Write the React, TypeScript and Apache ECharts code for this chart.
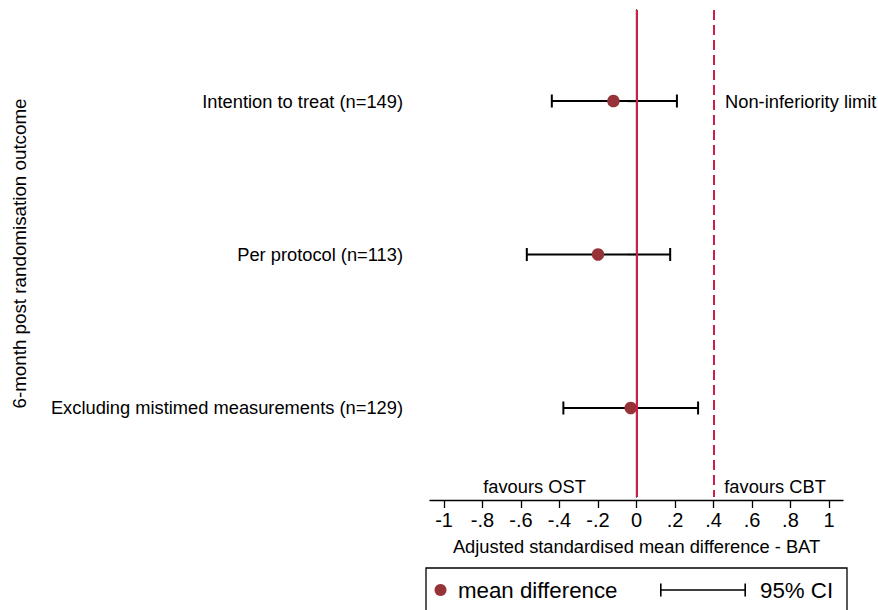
import React, { useEffect, useRef } from "react";
import * as echarts from "echarts";

const categories = [
  "Intention to treat (n=149)",
  "Per protocol (n=113)",
  "Excluding mistimed measurements (n=129)",
];
const meanDiff = [-0.12, -0.2, -0.03];
const ciLow = [-0.44, -0.57, -0.38];
const ciHigh = [0.21, 0.175, 0.32];
const xTicks = [-1, -0.8, -0.6, -0.4, -0.2, 0, 0.2, 0.4, 0.6, 0.8, 1];
const nonInferiorityLimit = 0.4;
const annotations = [
  { text: "Non-inferiority limit", x: 0.46, y: 1, align: "left" },
  { text: "favours OST", x: -0.53, y: 3.51, align: "center" },
  { text: "favours CBT", x: 0.72, y: 3.51, align: "center" },
];

const FONT = "'Liberation Sans', Arial, sans-serif";
const RED = "#cf1f49";
const MARKER = "#963339";
const FS = 18.3;

function fmtTick(v: number): string {
  if (v === 0) return "0";
  const s = String(Math.round(v * 10) / 10);
  return s.replace(/^(-?)0\./, "$1.");
}

export default function App() {
  const ref = useRef<HTMLDivElement>(null);
  useEffect(() => {
    document.body.style.margin = "0";
    if (!ref.current) return;
    const chart = echarts.init(ref.current, undefined, { renderer: "svg" });
    const option: any = {
      animation: false,
      backgroundColor: "#ffffff",
      textStyle: { fontFamily: FONT, color: "#000" },
      grid: { left: 430, right: 35, top: 10, bottom: 113 },
      xAxis: {
        type: "value",
        min: -1.073,
        max: 1.073,
        offset: 3,
        splitLine: { show: false },
        axisLine: { show: true, lineStyle: { color: "#000", width: 1.3 } },
        axisTick: { show: true, length: 8, customValues: xTicks, lineStyle: { color: "#000", width: 1.3 } },
        axisLabel: {
          customValues: xTicks,
          formatter: (v: number) => fmtTick(v),
          fontSize: 20,
          color: "#000",
          fontFamily: FONT,
          margin: 10,
        },
        name: "Adjusted standardised mean difference - BAT",
        nameLocation: "middle",
        nameGap: 37,
        nameTextStyle: { fontSize: FS, color: "#000", fontFamily: FONT },
      },
      yAxis: {
        type: "value",
        inverse: true,
        min: 0.407,
        max: 3.58,
        offset: 13,
        splitLine: { show: false },
        axisLine: { show: true, lineStyle: { color: "#000", width: 1.3 } },
        axisTick: { show: true, length: 9, customValues: [1, 2, 3], lineStyle: { color: "#000", width: 1.3 } },
        axisLabel: {
          customValues: [1, 2, 3],
          formatter: (v: number) => categories[Math.round(v) - 1] || "",
          fontSize: FS,
          color: "#000",
          fontFamily: FONT,
          margin: 14,
        },
        name: "6-month post randomisation outcome",
        nameLocation: "middle",
        nameGap: 388,
        nameTextStyle: { fontSize: 18.8, color: "#000", fontFamily: FONT },
      },
      legend: [
        {
          left: 434.5,
          top: 579,
          padding: 0,
          selectedMode: false,
          itemWidth: 25,
          itemHeight: 12,
          data: [{ name: "mean difference", icon: "circle", itemStyle: { color: MARKER } }],
          textStyle: { fontSize: 22.3, color: "#000", fontFamily: FONT, padding: [0, 0, 0, 0] },
        },
        {
          left: 660,
          top: 579,
          padding: 0,
          selectedMode: false,
          itemWidth: 86,
          itemHeight: 13,
          data: [
            {
              name: "95% CI",
              icon: "path://M0,0h1.6v5.7h82.8v-5.7h1.6v13h-1.6v-5.7h-82.8v5.7h-1.6z",
              itemStyle: { color: "#000" },
            },
          ],
          textStyle: { fontSize: 22.3, color: "#000", fontFamily: FONT, padding: [0, 0, 0, 9] },
        },
      ],
      graphic: [
        {
          type: "rect",
          shape: { x: 426, y: 568, width: 421, height: 60 },
          style: { fill: "none", stroke: "#000", lineWidth: 1.3 },
          silent: true,
        },
      ],
      series: [
        {
          name: "refs",
          type: "scatter",
          data: [],
          z: 1,
          markLine: {
            silent: true,
            symbol: "none",
            label: { show: false },
            animation: false,
            data: [
              { xAxis: 0, lineStyle: { color: RED, width: 2, type: "solid", opacity: 1 } },
              { xAxis: nonInferiorityLimit, lineStyle: { color: RED, width: 2, type: [10, 5], opacity: 1 } },
            ],
          },
        },
        {
          name: "95% CI",
          type: "custom",
          z: 2,
          itemStyle: { color: "#000" },
          data: categories.map((_, i) => [ciLow[i], ciHigh[i], i + 1]),
          renderItem: (params: any, api: any) => {
            const lo = api.coord([api.value(0), api.value(2)]);
            const hi = api.coord([api.value(1), api.value(2)]);
            const cap = 6.5;
            const st = { stroke: "#000", lineWidth: 2 };
            return {
              type: "group",
              children: [
                { type: "line", shape: { x1: lo[0], y1: lo[1], x2: hi[0], y2: hi[1] }, style: st },
                { type: "line", shape: { x1: lo[0], y1: lo[1] - cap, x2: lo[0], y2: lo[1] + cap }, style: st },
                { type: "line", shape: { x1: hi[0], y1: hi[1] - cap, x2: hi[0], y2: hi[1] + cap }, style: st },
              ],
            };
          },
        },
        {
          name: "mean difference",
          type: "scatter",
          z: 3,
          symbol: "circle",
          symbolSize: 12.5,
          itemStyle: { color: MARKER, opacity: 1 },
          data: categories.map((_, i) => [meanDiff[i], i + 1]),
        },
        {
          name: "annotations",
          type: "scatter",
          z: 4,
          symbolSize: 0,
          silent: true,
          itemStyle: { opacity: 1 },
          data: annotations.map((a) => ({
            value: [a.x, a.y],
            name: a.text,
            itemStyle: { opacity: 1 },
            label: {
              show: true,
              formatter: a.text,
              position: a.align === "left" ? "right" : "inside",
              distance: 0,
              fontSize: FS,
              color: "#000",
              opacity: 1,
              fontFamily: FONT,
            },
          })),
        },
      ],
    };
    chart.setOption(option);
    return () => chart.dispose();
  }, []);
  return <div ref={ref} style={{ width: 878, height: 610 }} />;
}
